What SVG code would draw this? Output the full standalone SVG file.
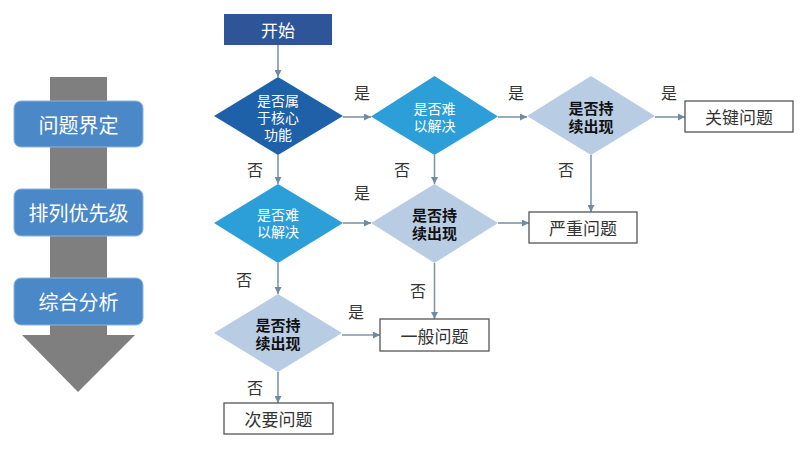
<svg xmlns="http://www.w3.org/2000/svg" width="805" height="449" viewBox="0 0 805 449">
<defs>
<marker id="ah" viewBox="0 0 10 10" refX="10" refY="5" markerWidth="7" markerHeight="7" orient="auto" markerUnits="userSpaceOnUse">
<path d="M0,0 L10,5 L0,10 z" fill="#6f8ba3"/>
</marker>
<style>
text{font-family:"Noto Sans CJK SC","Noto Sans",sans-serif;text-anchor:middle;dominant-baseline:central}
.c{stroke:#7f97ab;stroke-width:1.6;fill:none;marker-end:url(#ah)}
.lbl{font-size:16px;fill:#333}
.step rect{fill:#4a88c7;stroke:#8bb5e0;stroke-width:1}
.step text{font-size:20px;fill:#fff}
.dark{fill:#1f61a8}
.mid{fill:#2c9fd9}
.light{fill:#b8cde4}
.wt{font-family:"Liberation Sans","Noto Sans CJK SC",sans-serif;font-size:14px;fill:#fff}
.bt{font-family:"Liberation Sans","Noto Sans CJK SC",sans-serif;font-size:15px;fill:#111;font-weight:bold}
.box rect{fill:#fff;stroke:#555;stroke-width:1.3}
.box text{font-size:17px;fill:#333}
</style>
</defs>
<rect width="805" height="449" fill="#fff"/>
<g id="bigarrow">
<rect x="50" y="77" width="57" height="260" fill="#7f7f7f"/>
<polygon points="22,335 135,335 78,392" fill="#7f7f7f"/>
</g>
<g id="step1" class="step"><rect x="14" y="101" width="129" height="46" rx="7"/><text x="78.5" y="124">问题界定</text></g>
<g id="step2" class="step"><rect x="14" y="189" width="129" height="47" rx="7"/><text x="78.5" y="212.5">排列优先级</text></g>
<g id="step3" class="step"><rect x="14" y="278" width="129" height="47" rx="7"/><text x="78.5" y="301.5">综合分析</text></g>

<g id="connectors">
<line class="c" x1="278" y1="45" x2="278" y2="77"/>
<line class="c" x1="343" y1="117" x2="371" y2="117"/>
<line class="c" x1="498" y1="117" x2="527" y2="117"/>
<line class="c" x1="655" y1="117" x2="685" y2="117"/>
<line class="c" x1="278" y1="155" x2="278" y2="184"/>
<line class="c" x1="434.5" y1="155" x2="434.5" y2="184"/>
<line class="c" x1="591" y1="155" x2="591" y2="212"/>
<line class="c" x1="343" y1="223" x2="371" y2="223"/>
<line class="c" x1="498" y1="223" x2="529" y2="223"/>
<line class="c" x1="278" y1="263" x2="278" y2="294"/>
<line class="c" x1="434.5" y1="263" x2="434.5" y2="319"/>
<line class="c" x1="342" y1="335" x2="380" y2="335"/>
<line class="c" x1="278" y1="372" x2="278" y2="403"/>
<text class="lbl" x="362" y="92">是</text>
<text class="lbl" x="516" y="92">是</text>
<text class="lbl" x="669" y="92">是</text>
<text class="lbl" x="255" y="169">否</text>
<text class="lbl" x="402" y="169">否</text>
<text class="lbl" x="566" y="169">否</text>
<text class="lbl" x="362" y="192">是</text>
<text class="lbl" x="244" y="279">否</text>
<text class="lbl" x="418" y="290">否</text>
<text class="lbl" x="356" y="311">是</text>
<text class="lbl" x="255" y="387">否</text>
</g>

<g id="start"><rect x="224" y="14" width="108" height="31" fill="#2e5597"/><text x="278" y="29.5" style="font-size:17px;fill:#fff">开始</text></g>

<g id="d1"><polygon class="dark" points="278,77 343,116 278,155 214,116"/>
<text class="wt" x="278" y="101">是否属</text><text class="wt" x="278" y="118">于核心</text><text class="wt" x="278" y="135">功能</text></g>
<g id="d2"><polygon class="mid" points="434.5,76 498,116.5 434.5,155 371,116.5"/>
<text class="wt" x="434.5" y="109">是否难</text><text class="wt" x="434.5" y="126">以解决</text></g>
<g id="d3"><polygon class="light" points="591,76 655,116 591,155 527,116"/>
<text class="bt" x="591" y="108">是否持</text><text class="bt" x="591" y="126">续出现</text></g>
<g id="d4"><polygon class="mid" points="278,184 343,223 278,263 214,223"/>
<text class="wt" x="278" y="215">是否难</text><text class="wt" x="278" y="232">以解决</text></g>
<g id="d5"><polygon class="light" points="434.5,184 498,223 434.5,263 371,223"/>
<text class="bt" x="434.5" y="215">是否持</text><text class="bt" x="434.5" y="233">续出现</text></g>
<g id="d6"><polygon class="light" points="278,294 342,333 278,372 214,333"/>
<text class="bt" x="278" y="325">是否持</text><text class="bt" x="278" y="343">续出现</text></g>

<g id="b1" class="box"><rect x="685" y="101" width="108" height="31"/><text x="739" y="116.5">关键问题</text></g>
<g id="b2" class="box"><rect x="529" y="212" width="108" height="31"/><text x="583" y="227.5">严重问题</text></g>
<g id="b3" class="box"><rect x="380" y="319" width="109" height="32"/><text x="434.5" y="335">一般问题</text></g>
<g id="b4" class="box"><rect x="224" y="403" width="109" height="31"/><text x="278.5" y="418.5">次要问题</text></g>
</svg>
